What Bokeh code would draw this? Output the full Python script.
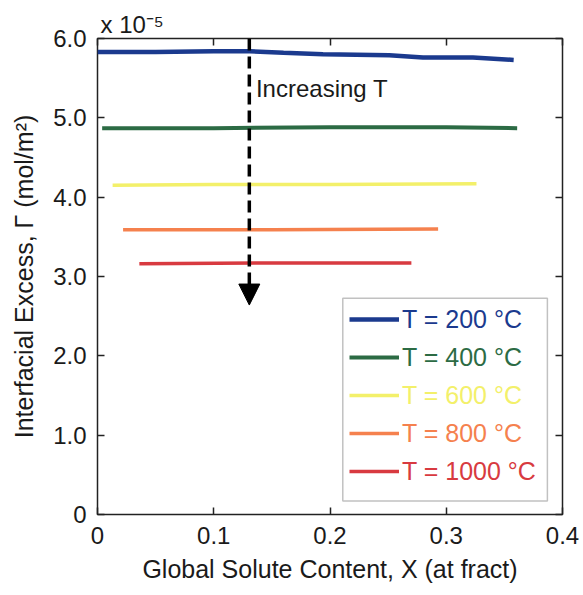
from bokeh.plotting import figure
from bokeh.models import (Legend, LegendItem, LinearAxis, FixedTicker, Label, Arrow, Title,
                          NormalHead, BoxAnnotation, CustomJSTickFormatter, Range1d)
from bokeh.embed import file_html
from bokeh.resources import INLINE

# ---------------- data ----------------
labels = ["T = 200 °C", "T = 400 °C", "T = 600 °C", "T = 800 °C", "T = 1000 °C"]
colors = ["#1b3a8e", "#2c6b44", "#f3f06a", "#f5814e", "#d83a40"]
widths = [4.5, 4, 3.5, 3.5, 3.5]

x200 = [0.000, 0.050, 0.100, 0.131, 0.160, 0.194, 0.251, 0.280, 0.323, 0.358]
y200 = [5.83, 5.83, 5.84, 5.84, 5.82, 5.80, 5.79, 5.76, 5.76, 5.73]
x400 = [0.004, 0.100, 0.200, 0.300, 0.361]
y400 = [4.87, 4.87, 4.88, 4.88, 4.87]
x600 = [0.013, 0.100, 0.200, 0.326]
y600 = [4.15, 4.16, 4.16, 4.17]
x800 = [0.022, 0.150, 0.293]
y800 = [3.59, 3.59, 3.60]
x1000 = [0.036, 0.150, 0.270]
y1000 = [3.16, 3.17, 3.17]
xs = [x200, x400, x600, x800, x1000]
ys = [y200, y400, y600, y800, y1000]

x_ticks = [0, 0.1, 0.2, 0.3, 0.4]
x_tick_labels = ["0", "0.1", "0.2", "0.3", "0.4"]
y_ticks = [0, 1, 2, 3, 4, 5, 6]
y_tick_labels = ["0", "1.0", "2.0", "3.0", "4.0", "5.0", "6.0"]
y_scale_text = "x 10⁻⁵"

arrow_x = 0.1306
arrow_y_start = 6.0
arrow_y_end = 2.64
note_x, note_y = 0.1363, 5.37

FONT = "Liberation Sans"

p = figure(width=583, height=595, output_backend="svg", toolbar_location=None,
           x_range=Range1d(0, 0.4), y_range=Range1d(0, 6.0),
           min_border_left=97, min_border_right=21, min_border_top=38, min_border_bottom=81)
p.background_fill_color = "white"
p.border_fill_color = "white"
p.outline_line_color = "#222222"
p.outline_line_width = 1.5
p.grid.visible = False

renderers = []
for x, y, c, w in zip(xs, ys, colors, widths):
    r = p.line(x, y, line_color=c, line_width=w)
    renderers.append(r)

def style(ax, ticks, labels_, show):
    ax.ticker = FixedTicker(ticks=ticks)
    if show:
        ax.major_label_overrides = {t: l for t, l in zip(ticks, labels_)}
    ax.major_tick_in = 7
    ax.major_tick_out = 0
    ax.minor_tick_in = 0
    ax.minor_tick_out = 0
    ax.axis_line_color = None
    ax.major_tick_line_color = "#222222"
    ax.major_tick_line_width = 1.5
    ax.major_label_text_font = FONT
    ax.major_label_text_font_size = "24px"
    ax.major_label_text_color = "#1a1a1a"
    ax.axis_label_text_font = FONT
    ax.axis_label_text_font_size = "25px"
    ax.axis_label_text_font_style = "normal"
    ax.axis_label_text_color = "#1a1a1a"

style(p.xaxis[0], x_ticks, x_tick_labels, True)
style(p.yaxis[0], y_ticks, y_tick_labels, True)
p.xaxis[0].axis_label = "Global Solute Content, X (at fract)"
p.yaxis[0].axis_label = "Interfacial Excess, Γ (mol/m²)"
p.xaxis[0].major_label_standoff = 12
p.xaxis[0].axis_label_standoff = 8
p.yaxis[0].major_label_standoff = 11
p.yaxis[0].axis_label_standoff = 12

top = LinearAxis(formatter=CustomJSTickFormatter(code="return ''"))
style(top, x_ticks, x_tick_labels, False)
top.major_label_standoff = 0
top.major_label_text_font_size = "1px"
p.add_layout(top, "above")
right = LinearAxis(formatter=CustomJSTickFormatter(code="return ''"))
style(right, y_ticks, y_tick_labels, False)
right.major_label_standoff = 0
right.major_label_text_font_size = "1px"
p.add_layout(right, "right")

# exponent label above the frame
p.add_layout(Title(text=y_scale_text, align="left", offset=3, standoff=2,
                   text_font=FONT, text_font_size="24px", text_font_style="normal",
                   text_color="#1a1a1a"), "above")

# dashed arrow
p.add_layout(Arrow(end=NormalHead(size=21, fill_color="black", line_color="black"),
                   x_start=arrow_x, y_start=arrow_y_start, x_end=arrow_x, y_end=arrow_y_end,
                   line_color="black", line_width=3.5, line_dash="12 6"))
p.add_layout(Label(x=note_x, y=note_y, text="Increasing T", text_font=FONT,
                   text_font_size="24px", text_color="#1a1a1a", text_baseline="middle"))

# legend box
p.add_layout(BoxAnnotation(left=0.211, right=0.387, bottom=0.169, top=2.725,
                           fill_color="white", fill_alpha=1.0,
                           line_color="#333333", line_width=1.5, level="overlay"))

row_bottoms = [180.5, 142.5, 104.5, 66.5, 28.5]
for lab, r, c, yb in zip(labels, renderers, colors, row_bottoms):
    lg = Legend(items=[LegendItem(label=lab, renderers=[r])], location=(252, yb),
                label_text_color=c, label_text_font=FONT, label_text_font_size="25px",
                glyph_width=50, glyph_height=26, label_height=26, label_standoff=3,
                padding=0, margin=0, spacing=0, border_line_alpha=0,
                background_fill_alpha=0)
    p.add_layout(lg, "center")

open("out.html", "w").write(file_html(p, INLINE))
